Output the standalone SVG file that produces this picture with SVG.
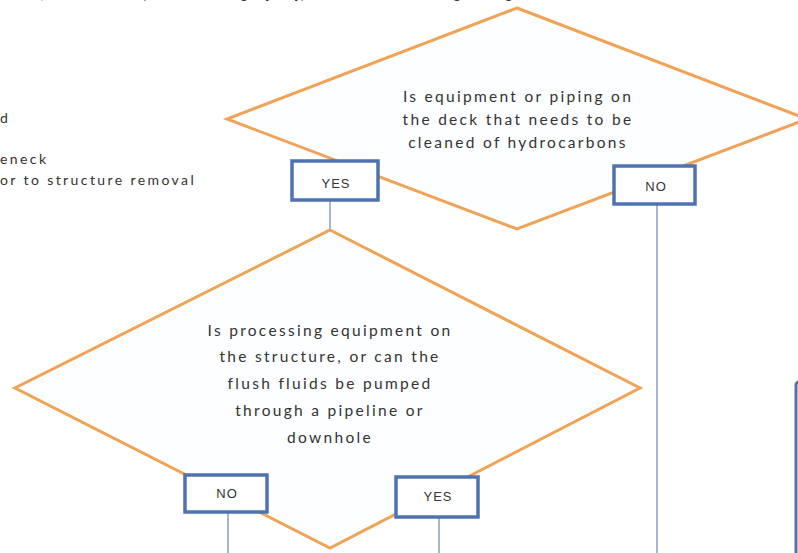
<svg xmlns="http://www.w3.org/2000/svg" width="798" height="553" viewBox="0 0 798 553">
<style>
.dia{fill:#fdfeff;stroke:#f0a257;stroke-width:3;stroke-linejoin:miter}
.box{fill:#ffffff;stroke:#4f72b0;stroke-width:3.5}
.con{stroke:#8b9dc0;stroke-width:1.5;fill:none}
.q{font-family:Lato,"Open Sans",sans-serif;font-size:15.5px;fill:#333;text-anchor:middle;letter-spacing:2.3px}
.lbl{font-family:"Liberation Sans",Arial,sans-serif;font-size:13px;fill:#333;text-anchor:middle;letter-spacing:1px}
.side{font-family:Lato,"Open Sans",sans-serif;font-size:14px;fill:#333;letter-spacing:2.4px}
</style>
<rect width="798" height="553" fill="#ffffff"/>
<text class="side" x="0" y="-1" textLength="603" lengthAdjust="spacingAndGlyphs">essel, Lift Vessel (Derrick Barge [DB]) selection and Cargo Barge selection</text>
<text class="side" x="0" y="123">d</text>
<text class="side" x="0" y="164">eneck</text>
<text class="side" x="0" y="185">or to structure removal</text>
<g id="connectors">
<line class="con" x1="330" y1="201" x2="330" y2="231"/>
<line class="con" x1="657" y1="205" x2="657" y2="553"/>
<line class="con" x1="228" y1="513" x2="228" y2="553"/>
<line class="con" x1="439" y1="518" x2="439" y2="553"/>
</g>
<g id="q1">
<polygon class="dia" points="517,8 807,119 517,229 227,119"/>
<text class="q" x="518" y="102">Is equipment or piping on</text>
<text class="q" x="518" y="125">the deck that needs to be</text>
<text class="q" x="518" y="148">cleaned of hydrocarbons</text>
</g>
<g id="yes1">
<rect class="box" x="292" y="161" width="86" height="39"/>
<text class="lbl" x="336" y="188">YES</text>
</g>
<g id="no1">
<rect class="box" x="614" y="166" width="81" height="38"/>
<text class="lbl" x="656" y="191">NO</text>
</g>
<g id="q2">
<polygon class="dia" points="330,230 640,388 330,548 15,388"/>
<text class="q" x="330" y="336">Is processing equipment on</text>
<text class="q" x="330" y="362">the structure, or can the</text>
<text class="q" x="330" y="389">flush fluids be pumped</text>
<text class="q" x="330" y="416">through a pipeline or</text>
<text class="q" x="330" y="443">downhole</text>
</g>
<g id="no2">
<rect class="box" x="185" y="475" width="82" height="37"/>
<text class="lbl" x="227" y="498">NO</text>
</g>
<g id="yes2">
<rect class="box" x="396" y="477" width="82" height="40"/>
<text class="lbl" x="438" y="501">YES</text>
</g>
<g id="offpage">
<rect x="796" y="382" width="40" height="200" rx="3" fill="#ffffff" stroke="#4f72b0" stroke-width="3"/>
</g>
</svg>
